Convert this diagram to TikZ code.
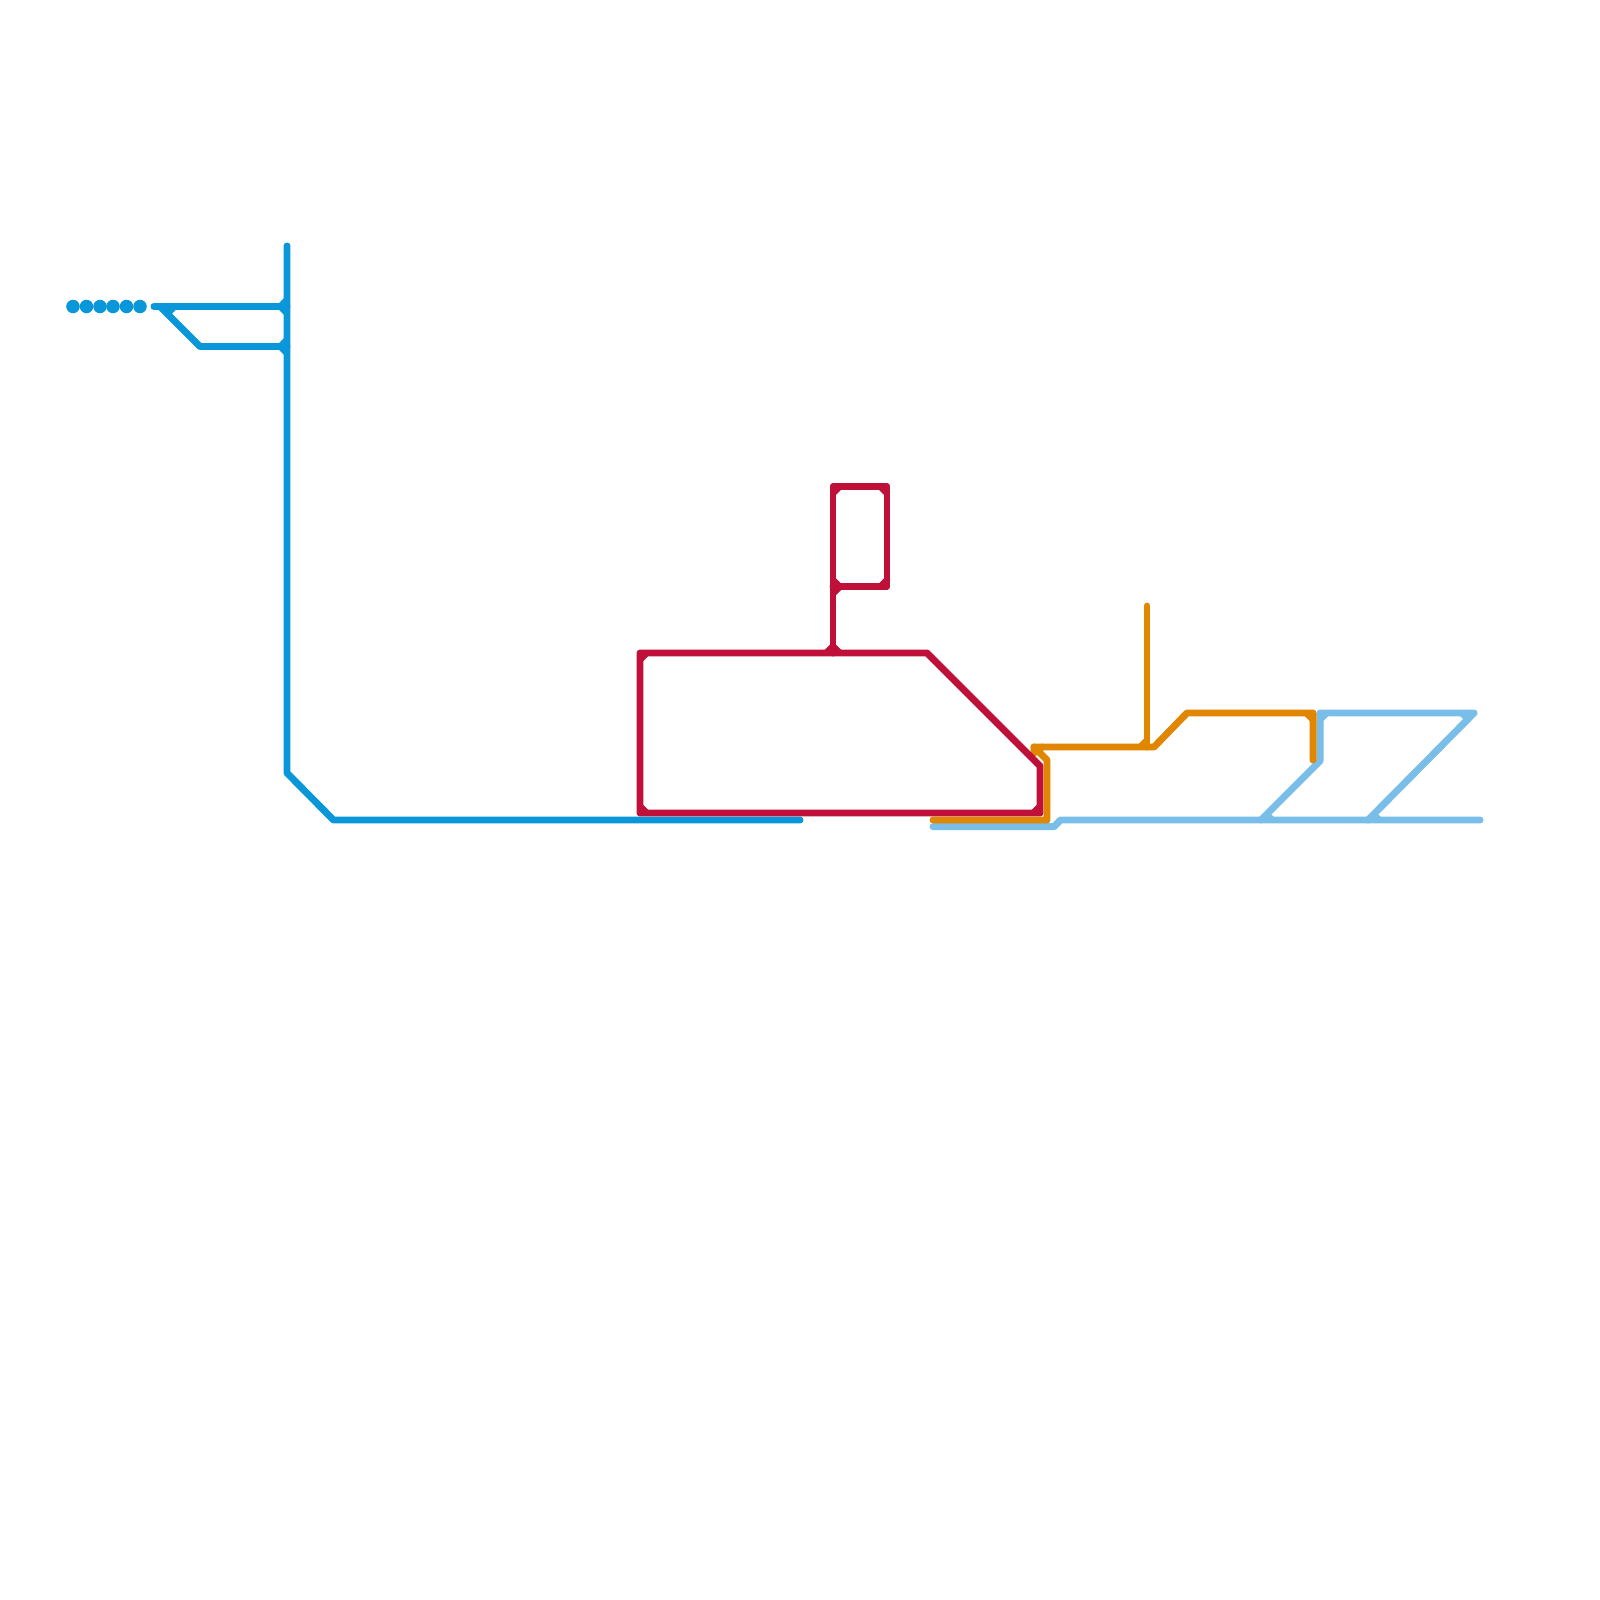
\documentclass[tikz,border=0pt]{standalone}
\usepackage{xcolor}
\definecolor{lineblue}{HTML}{0A97D9}
\definecolor{linered}{HTML}{BE1038}
\definecolor{lineorange}{HTML}{E08600}
\definecolor{linesky}{HTML}{79BDE9}
\begin{document}
\begin{tikzpicture}[
  x=0.01cm, y=-0.01cm,
  track/.style={line width=1.98pt, line cap=round, line join=round},
  chamfer/.style={line width=1.98pt, line cap=butt},
  stopdot/.style={circle, fill=lineblue, inner sep=0pt, minimum size=0.135cm}
]
\useasboundingbox (0,0) rectangle (1600,1600);
% blue line
\foreach \n/\x in {a/73, b/86.5, c/100, d/113, e/126.5, f/140} {
  \node[stopdot] (dot\n) at (\x,306.5) {};
}
\coordinate (btop) at (287,246);
\coordinate (bupper) at (287,306.5);
\coordinate (blower) at (287,346.5);
\coordinate (bbend) at (287,773);
\coordinate (bfoot) at (333.5,820);
\coordinate (bend) at (800,820);
\coordinate (bstart) at (154,306.5);
\coordinate (bfork) at (160,306.5);
\coordinate (bknee) at (200,346.5);
\draw[track, lineblue] (btop) -- (bbend) -- (bfoot) -- (bend);
\draw[track, lineblue] (bstart) -- (bupper);
\draw[track, lineblue] (bfork) -- (bknee) -- (blower);
\foreach \x/\y/\dx/\dy in {287/306.5/-1/-1, 287/306.5/-1/1, 287/346.5/-1/-1, 287/346.5/-1/1} {
  \draw[chamfer, lineblue] (\x+\dx*6.5,\y) -- (\x,\y+\dy*6.5);
}
\draw[chamfer, lineblue] (174,306.5) -- (168,313);
% sky line
\coordinate (sleft) at (933,826.7);
\coordinate (sstep) at (1054,826.7);
\coordinate (sjoin) at (1060.5,820);
\coordinate (sright) at (1480,820);
\coordinate (sfirst) at (1261,820);
\coordinate (sneck) at (1320,761);
\coordinate (scorner) at (1320,713);
\coordinate (stip) at (1474,713);
\coordinate (ssecond) at (1368,820);
\draw[track, linesky] (sleft) -- (sstep) -- (sjoin) -- (sright);
\draw[track, linesky] (sfirst) -- (sneck) -- (scorner) -- (stip) -- (ssecond);
\foreach \x/\y/\dx/\dy in {1320/713/1/1} {
  \draw[chamfer, linesky] (\x+\dx*6.5,\y) -- (\x,\y+\dy*6.5);
}
\draw[chamfer, linesky] (1272,820) -- (1266,814);
\draw[chamfer, linesky] (1379,820) -- (1373,814);
\draw[chamfer, linesky] (1462,713) -- (1468,719);
% orange line
\coordinate (oleft) at (933,820);
\coordinate (ocorner) at (1047,820);
\coordinate (oneck) at (1047,760);
\coordinate (oblob) at (1034,747);
\coordinate (ojoin) at (1154,747);
\coordinate (oknee) at (1187,713);
\coordinate (oturn) at (1313,713);
\coordinate (oend) at (1313,760);
\coordinate (otop) at (1147,606);
\coordinate (otee) at (1147,747);
\draw[track, lineorange] (oleft) -- (ocorner) -- (oneck) -- (oblob) -- (ojoin) -- (oknee) -- (oturn) -- (oend);
\draw[track, lineorange] (otop) -- (otee);
\draw[track, lineorange] (oblob) -- (1034,753) -- (1042,747);
\foreach \x/\y/\dx/\dy in {1147/747/-1/-1, 1313/713/-1/1} {
  \draw[chamfer, lineorange] (\x+\dx*6.5,\y) -- (\x,\y+\dy*6.5);
}
% red line
\coordinate (rnw) at (640,653);
\coordinate (rsw) at (640,813);
\coordinate (rse) at (1040,813);
\coordinate (rneck) at (1040,766);
\coordinate (rknee) at (927,653);
\coordinate (rtee) at (833,653);
\coordinate (rloopa) at (833,486.5);
\coordinate (rloopb) at (887,486.5);
\coordinate (rloopc) at (887,586.7);
\coordinate (rloopd) at (833,586.7);
\draw[track, linered] (rnw) -- (rknee) -- (rneck) -- (rse) -- (rsw) -- cycle;
\draw[track, linered] (rtee) -- (rloopa) -- (rloopb) -- (rloopc) -- (rloopd);
\foreach \x/\y/\dx/\dy in {640/653/1/1, 640/813/1/-1, 1040/813/-1/-1, 833/486.5/1/1, 887/486.5/-1/1, 887/586.7/-1/-1, 833/586.7/1/-1, 833/586.7/1/1, 833/653/-1/-1, 833/653/1/-1} {
  \draw[chamfer, linered] (\x+\dx*6.5,\y) -- (\x,\y+\dy*6.5);
}
\end{tikzpicture}
\end{document}
